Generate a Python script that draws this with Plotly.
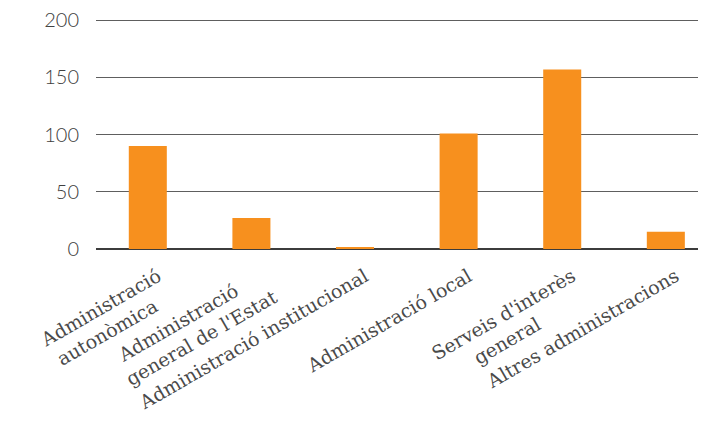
import plotly.graph_objects as go

# categories and values
# (non-breaking spaces roughly centre the shorter line of two-line labels)
NB = "\u00a0"
categories = [
    "Administració<br>autonòmica" + NB * 3,
    "Administració" + NB * 5 + "<br>general de l'Estat",
    "Administració institucional",
    "Administració local",
    "Serveis d'interès<br>general" + NB * 9,
    "Altres administracions",
]
values = [90, 27, 1, 101, 157, 15]
y_ticks = [0, 50, 100, 150, 200]

fig = go.Figure()
fig.add_trace(go.Bar(x=categories, y=values, marker_color="#F7901E",
                     marker_line_width=0))

# page body has an 8px margin, so the plot is shifted up/left by that much
fig.update_layout(
    width=706, height=422,
    margin=dict(l=88, r=0, t=10, b=181, autoexpand=False),
    plot_bgcolor="white", paper_bgcolor="white",
    bargap=0.633,
    showlegend=False,
)
fig.update_xaxes(
    range=[-0.5, 5.465],
    tickangle=-30,
    tickfont=dict(family="DejaVu Serif", size=19, color="#4a4a4a"),
    showgrid=False,
    automargin=False,
    ticklabelstandoff=12,
    ticklabelshift=10,
)
fig.update_yaxes(
    range=[0, 202],
    tickvals=y_ticks,
    tickfont=dict(family="Lato", size=20, color="#404040", weight=300),
    showgrid=True, gridcolor="#5e5e5e", gridwidth=1.3,
    zeroline=True, zerolinecolor="#3c3c3c", zerolinewidth=1.6,
    automargin=False,
    ticklabelstandoff=16,
    ticklabeloverflow="allow",
)

fig.write_html("out.html")
